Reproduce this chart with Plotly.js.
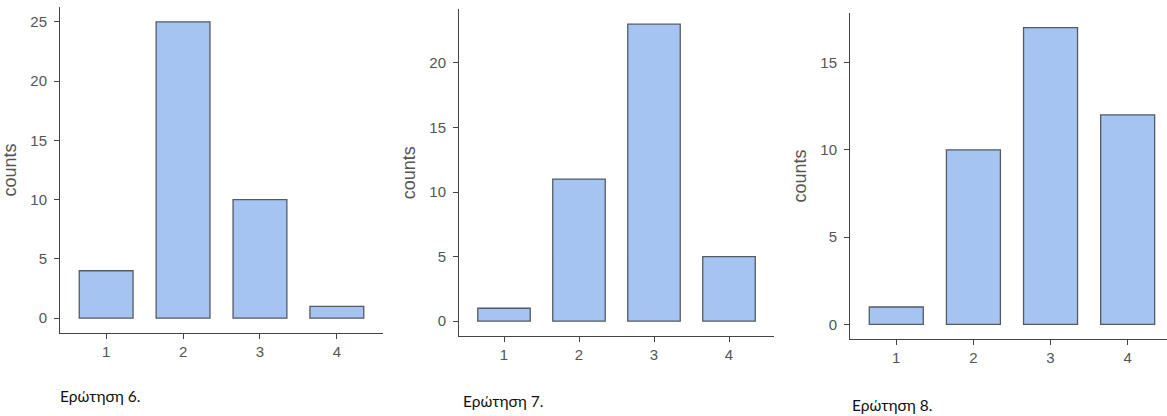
<!DOCTYPE html>
<html>
<head>
<meta charset="utf-8">
<script src="https://cdn.plot.ly/plotly-3.0.1.min.js"></script>
<style>html,body{margin:0;padding:0;background:#fff;}#chart{width:1167px;height:416px;}</style>
</head>
<body>
<div id="chart"></div>
<script>
var categories = ["1", "2", "3", "4"];
var q6Counts = [4, 25, 10, 1];
var q7Counts = [1, 11, 23, 5];
var q8Counts = [1, 10, 17, 12];
var yTicks6 = [0, 5, 10, 15, 20, 25];
var yTicks7 = [0, 5, 10, 15, 20];
var yTicks8 = [0, 5, 10, 15];
var captions = ["Ερώτηση 6.", "Ερώτηση 7.", "Ερώτηση 8."];
var yTitle = "counts";

var W = 1167, H = 416;
var barFill = "#a5c4f1";
var barEdge = "#555b63";
var axisCol = "#444444";
var textCol = "#555555";
var sansFam = "Liberation Sans";

function bar(y, xa, ya) {
  return {
    type: "bar", x: [1, 2, 3, 4], y: y, width: 0.7,
    xaxis: xa, yaxis: ya,
    marker: {color: barFill, line: {color: barEdge, width: 1.3}},
    hoverinfo: "x+y", showlegend: false
  };
}

function xax(px0, px1, range, anchor) {
  return {
    domain: [px0 / W, px1 / W], range: range, anchor: anchor,
    tickmode: "array", tickvals: [1, 2, 3, 4], ticktext: categories,
    showline: true, linecolor: axisCol, linewidth: 1,
    ticks: "outside", ticklen: 5, tickcolor: axisCol, tickwidth: 1,
    ticklabelstandoff: 0,
    showgrid: false, zeroline: false,
    tickfont: {family: sansFam, size: 15, color: textCol}
  };
}
function yax(top, bottom, range, ticks, anchor) {
  return {
    domain: [1 - bottom / H, 1 - top / H], range: range, anchor: anchor,
    tickmode: "array", tickvals: ticks,
    showline: true, linecolor: axisCol, linewidth: 1,
    ticks: "outside", ticklen: 5, tickcolor: axisCol, tickwidth: 1,
    ticklabelstandoff: 4,
    showgrid: false, zeroline: false,
    tickfont: {family: sansFam, size: 15, color: textCol},
    title: {text: yTitle, standoff: 9, font: {family: sansFam, size: 18, color: textCol}}
  };
}

var data = [
  bar(q6Counts, "x", "y"),
  bar(q7Counts, "x2", "y2"),
  bar(q8Counts, "x3", "y3")
];

var capFont = {family: "Lato", size: 15.5, color: "#111111"};
var layout = {
  width: W, height: H,
  margin: {l: 0, r: 0, t: 0, b: 0},
  paper_bgcolor: "#ffffff", plot_bgcolor: "#ffffff",
  xaxis: xax(60, 383, [0.4, 4.6], "y"),
  yaxis: yax(7, 333, [-1.25, 26.25], yTicks6, "x"),
  xaxis2: xax(459, 774, [0.4, 4.6], "y2"),
  yaxis2: yax(9.3, 336, [-1.15, 24.15], yTicks7, "x2"),
  xaxis3: xax(850, 1167, [0.4, 4.51], "y3"),
  yaxis3: yax(12.7, 339.3, [-0.85, 17.85], yTicks8, "x3"),
  annotations: [
    {text: captions[0], xref: "paper", yref: "paper", x: 58 / W, y: 1 - 396 / H, xanchor: "left", yanchor: "middle", showarrow: false, font: capFont},
    {text: captions[1], xref: "paper", yref: "paper", x: 461 / W, y: 1 - 401 / H, xanchor: "left", yanchor: "middle", showarrow: false, font: capFont},
    {text: captions[2], xref: "paper", yref: "paper", x: 850 / W, y: 1 - 405 / H, xanchor: "left", yanchor: "middle", showarrow: false, font: capFont}
  ]
};

Plotly.newPlot("chart", data, layout, {displayModeBar: false, staticPlot: true});
</script>
</body>
</html>
